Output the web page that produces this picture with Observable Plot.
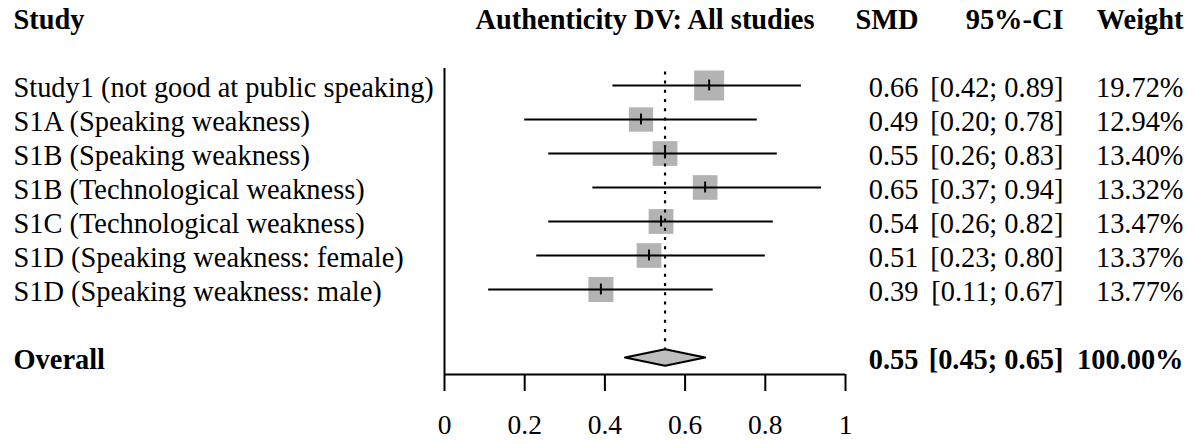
<!DOCTYPE html>
<html><head><meta charset="utf-8">
<script src="https://cdn.jsdelivr.net/npm/d3@7"></script>
<script src="https://cdn.jsdelivr.net/npm/@observablehq/plot@0.6"></script>
<style>html,body{margin:0;padding:0;background:#fff} svg{display:block}</style>
</head><body><div id="chart"></div>
<script>
const studies = [
  "Study1 (not good at public speaking)",
  "S1A (Speaking weakness)",
  "S1B (Speaking weakness)",
  "S1B (Technological weakness)",
  "S1C (Technological weakness)",
  "S1D (Speaking weakness: female)",
  "S1D (Speaking weakness: male)"
];
const smd     = [0.66, 0.49, 0.55, 0.65, 0.54, 0.51, 0.39];
const lower   = [0.42, 0.20, 0.26, 0.37, 0.26, 0.23, 0.11];
const upper   = [0.89, 0.78, 0.83, 0.94, 0.82, 0.80, 0.67];
const weights = [19.72, 12.94, 13.40, 13.32, 13.47, 13.37, 13.77];

const overallLabel = "Overall";
const overallSmd = 0.55;
const overallLower = 0.45;
const overallUpper = 0.65;
const overallWeight = 100.00;

const xTicks = [0, 0.2, 0.4, 0.6, 0.8, 1];
const headStudy = "Study";
const headPlot = "Authenticity DV: All studies";
const headSmd = "SMD";
const headCi = "95%-CI";
const headWeight = "Weight";

// layout (rows)
const headerRow = -1;
const overallRow = 9;
const rows = studies.map((s, i) => ({study: s, smd: smd[i], lower: lower[i], upper: upper[i], weight: weights[i], row: i + 1}));
const overall = [{study: overallLabel, smd: overallSmd, lower: overallLower, upper: overallUpper, weight: overallWeight, row: overallRow}];
const f2 = d3.format(".2f");
const ciText = d => `[${f2(d.lower)}; ${f2(d.upper)}]`;
const wText = d => `${f2(d.weight)}%`;
const dh = 0.245; // diamond half-height in rows
const diamond = [
  {x: overallLower, y: overallRow},
  {x: overallSmd, y: overallRow - dh},
  {x: overallUpper, y: overallRow},
  {x: overallSmd, y: overallRow + dh},
  {x: overallLower, y: overallRow}
];

const FS = 28.4;
const T = {fontSize: FS, dy: 2.5, lineAnchor: "middle"};
const B = {...T, fontWeight: "bold"};
const colSmd = -278, colCi = -133, colW = -13;

const chart = Plot.plot({
  width: 1196, height: 444,
  marginTop: 0, marginRight: 0, marginBottom: 70, marginLeft: 0,
  style: {fontFamily: "'Liberation Serif','Times New Roman',serif", fontSize: FS + "px", color: "#000", background: "#fff", overflow: "visible"},
  x: {domain: [0, 1], range: [444, 845], label: null},
  y: {domain: [0, 10], range: [51, 391], axis: null, label: null},
  r: {type: "sqrt", domain: [0, d3.max(weights)], range: [0, 30 / Math.sqrt(Math.PI)]},
  marks: [
    Plot.ruleX([0], {y1: 0.5, y2: 9.5, stroke: "#000", strokeWidth: 2}),
    Plot.ruleY([9.5], {x1: 0, x2: 1, stroke: "#000", strokeWidth: 2}),
    Plot.axisX({anchor: "bottom", ticks: xTicks, tickFormat: d3.format("~g"), tickSize: 17, tickPadding: 23, strokeWidth: 2, fontSize: 27.5, label: null}),
    Plot.dot(rows, {x: "smd", y: "row", r: "weight", symbol: "square", fill: "#b3b3b3", stroke: null}),
    Plot.ruleX([overallSmd], {y1: 0.6, y2: overallRow - dh, stroke: "#000", strokeWidth: 2.2, strokeDasharray: "3,6.2"}),
    Plot.ruleY(rows, {y: "row", x1: "lower", x2: "upper", stroke: "#000", strokeWidth: 2}),
    Plot.ruleX(rows, {x: "smd", y1: d => d.row - 0.16, y2: d => d.row + 0.16, stroke: "#000", strokeWidth: 2}),
    Plot.line(diamond, {x: "x", y: "y", fill: "#bebebe", stroke: "#000", strokeWidth: 2}),
    // headers
    Plot.text([headStudy], {...B, text: d => d, y: () => headerRow, frameAnchor: "left", dx: 13, textAnchor: "start"}),
    Plot.text([headPlot], {...B, text: d => d, x: () => 0.5, y: () => headerRow, textAnchor: "middle"}),
    Plot.text([headSmd], {...B, text: d => d, y: () => headerRow, frameAnchor: "right", dx: colSmd, textAnchor: "end"}),
    Plot.text([headCi], {...B, text: d => d, y: () => headerRow, frameAnchor: "right", dx: colCi, textAnchor: "end"}),
    Plot.text([headWeight], {...B, text: d => d, y: () => headerRow, frameAnchor: "right", dx: colW, textAnchor: "end"}),
    // study rows
    Plot.text(rows, {...T, text: "study", y: "row", frameAnchor: "left", dx: 13, textAnchor: "start"}),
    Plot.text(rows, {...T, text: d => f2(d.smd), y: "row", frameAnchor: "right", dx: colSmd, textAnchor: "end"}),
    Plot.text(rows, {...T, text: ciText, y: "row", frameAnchor: "right", dx: colCi, textAnchor: "end"}),
    Plot.text(rows, {...T, text: wText, y: "row", frameAnchor: "right", dx: colW, textAnchor: "end"}),
    // overall
    Plot.text(overall, {...B, text: "study", y: "row", frameAnchor: "left", dx: 13, textAnchor: "start"}),
    Plot.text(overall, {...B, text: d => f2(d.smd), y: "row", frameAnchor: "right", dx: colSmd, textAnchor: "end"}),
    Plot.text(overall, {...B, text: ciText, y: "row", frameAnchor: "right", dx: colCi, textAnchor: "end"}),
    Plot.text(overall, {...B, text: wText, y: "row", frameAnchor: "right", dx: colW, textAnchor: "end"})
  ]
});
document.getElementById("chart").appendChild(chart);
</script>
</body></html>
